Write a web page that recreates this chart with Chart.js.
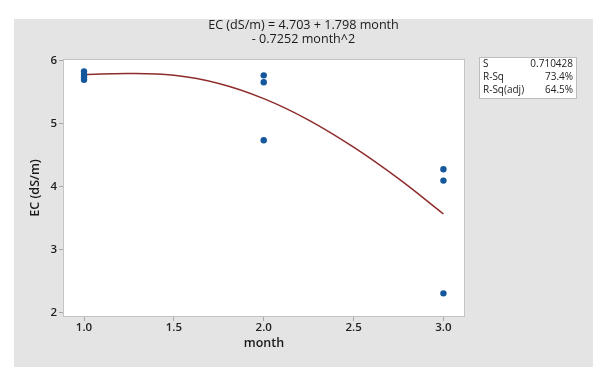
<!DOCTYPE html>
<html>
<head>
<meta charset="utf-8">
<script src="https://cdn.jsdelivr.net/npm/chart.js@4.4.1/dist/chart.umd.min.js"></script>
<style>
  html, body { margin: 0; padding: 0; background: #fff; }
  #wrap { width: 603px; height: 384px; }
</style>
</head>
<body>
<div id="wrap"><canvas id="fitplot" width="603" height="384"></canvas></div>
<script>
// observed values
var monthX = [1, 1, 1, 1, 2, 2, 2, 3, 3, 3];
var ecValues = [5.83, 5.78, 5.74, 5.70, 5.77, 5.66, 4.74, 4.28, 4.10, 2.31];

// fitted curve
var fitX = [1.0, 1.25, 1.5, 1.75, 2.0, 2.25, 2.5, 2.75, 3.0];
var fitY = [5.78, 5.80, 5.77, 5.64, 5.40, 5.06, 4.63, 4.13, 3.57];

var xTicks = [1.0, 1.5, 2.0, 2.5, 3.0];
var yTicks = [2, 3, 4, 5, 6];

var titleLines = ["EC (dS/m) = 4.703 + 1.798 month", "- 0.7252 month^2"];
var statNames = ["S", "R-Sq", "R-Sq(adj)"];
var statValues = ["0.710428", "73.4%", "64.5%"];

var pts = monthX.map(function (x, i) { return { x: x, y: ecValues[i] }; });
var fit = fitX.map(function (x, i) { return { x: x, y: fitY[i] }; });

var panel = {
   id: "panel",
   beforeDraw: function (chart) {
      var c = chart.ctx, a = chart.chartArea;
      c.save();
      c.fillStyle = "#e4e4e4";
      c.fillRect(14, 19, 579, 348);
      c.fillStyle = "#ffffff";
      c.fillRect(a.left, a.top, a.right - a.left, a.bottom - a.top);
      c.strokeStyle = "#c4c4c4";
      c.lineWidth = 1;
      c.strokeRect(a.left + 0.5, a.top + 0.5, a.right - a.left - 1, a.bottom - a.top - 1);
      c.restore();
   },
   afterDraw: function (chart) {
      var c = chart.ctx;
      c.save();
      c.fillStyle = "#ffffff";
      c.fillRect(479, 57, 98, 42);
      c.strokeStyle = "#bdbdbd";
      c.strokeRect(479.5, 57.5, 97, 41);
      c.font = "10px 'Open Sans'";
      c.fillStyle = "#222";
      c.textBaseline = "middle";
      for (var i = 0; i < statNames.length; i++) {
         c.textAlign = "left";
         c.fillText(statNames[i], 483, 64 + i * 13);
         c.textAlign = "right";
         c.fillText(statValues[i], 573, 64 + i * 13);
      }
      c.restore();
   }
};

new Chart("fitplot", {
   type: "scatter",
   data: {
      datasets: [{
         data: pts,
         pointRadius: 3.2,
         pointHoverRadius: 3.2,
         pointBackgroundColor: "#14579a",
         pointBorderWidth: 0
      }, {
         data: fit,
         showLine: true,
         pointRadius: 0,
         borderColor: "#8e2b2b",
         borderWidth: 1.5,
         tension: 0.4
      }]
   },
   options: {
      responsive: false,
      animation: false,
      layout: { padding: { left: 14, right: 10, top: 18, bottom: 17 } },
      plugins: {
         legend: { display: false },
         tooltip: { enabled: false },
         title: {
            display: true,
            text: titleLines,
            color: "#1a1a1a",
            font: { family: "'Open Sans'", size: 12.6, weight: "normal", lineHeight: 1.11 },
            padding: { top: 0, bottom: 13 }
         }
      },
      scales: {
         x: {
            type: "linear",
            min: 0.883,
            max: 3.12,
            afterBuildTicks: function (s) { s.ticks = xTicks.map(function (v) { return { value: v }; }); },
            afterFit: function (s) { s.height = 50; },
            ticks: {
               padding: 0,
               color: "#222",
               font: { family: "'Open Sans'", size: 11.5, weight: "600" },
               callback: function (v) { return v.toFixed(1); }
            },
            grid: { drawOnChartArea: false, tickLength: 4, color: "#a8a8a8" },
            border: { display: false },
            title: {
               display: true,
               text: "month",
               color: "#1a1a1a",
               font: { family: "'Open Sans'", size: 12.5, weight: "600" },
               padding: { top: 0, bottom: 16 }
            }
         },
         y: {
            type: "linear",
            min: 1.935,
            max: 6.03,
            afterBuildTicks: function (s) { s.ticks = yTicks.map(function (v) { return { value: v }; }); },
            afterFit: function (s) { s.width = 49; },
            ticks: {
               padding: 2,
               color: "#222",
               font: { family: "'Open Sans'", size: 11.5, weight: "600" }
            },
            grid: { drawOnChartArea: false, tickLength: 4, color: "#a8a8a8" },
            border: { display: false },
            title: {
               display: true,
               text: "EC (dS/m)",
               color: "#1a1a1a",
               font: { family: "'Open Sans'", size: 12.5, weight: "600" },
               padding: { top: 14, bottom: 0 }
            }
         },
         side: {
            type: "linear",
            position: "right",
            afterFit: function (s) { s.width = 128; },
            ticks: { display: false },
            grid: { display: false },
            border: { display: false }
         }
      }
   },
   plugins: [panel]
});
</script>
</body>
</html>
